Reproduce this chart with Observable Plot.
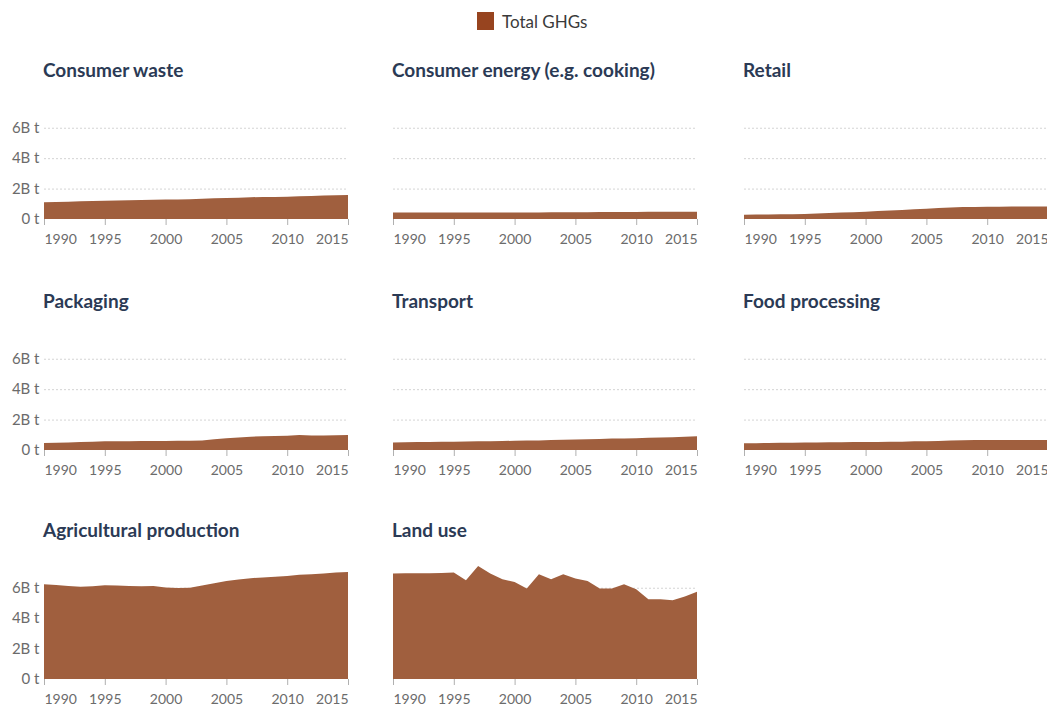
<!DOCTYPE html>
<html><head><meta charset="utf-8">
<script src="https://cdn.jsdelivr.net/npm/d3@7"></script>
<script src="https://cdn.jsdelivr.net/npm/@observablehq/plot@0.6"></script>
<style>
body{margin:0;background:#fff;font-family:Lato,"Noto Sans",sans-serif;}
#root{position:relative;width:1047px;height:709px;overflow:hidden;background:#fff;}
.title{position:absolute;font-size:19px;line-height:18px;font-weight:700;color:#2b3a55;white-space:nowrap;}
.panel{position:absolute;}
.legend-swatch{position:absolute;left:477px;top:12px;width:17px;height:18px;background:#97441f;}
.legend-text{position:absolute;left:502px;top:13px;font-size:17px;line-height:17px;color:#3a3a3a;white-space:nowrap;}
</style></head><body><div id="root"></div>
<script>
// ---- data ----
const years = [1990,1991,1992,1993,1994,1995,1996,1997,1998,1999,2000,2001,2002,2003,2004,2005,2006,2007,2008,2009,2010,2011,2012,2013,2014,2015];
const panelTitles = ["Consumer waste","Consumer energy (e.g. cooking)","Retail","Packaging","Transport","Food processing","Agricultural production","Land use"];
// billions of tonnes CO2eq
const consumerWaste   = [1.10,1.12,1.14,1.16,1.18,1.20,1.22,1.24,1.25,1.27,1.28,1.29,1.30,1.33,1.36,1.38,1.40,1.43,1.45,1.45,1.46,1.49,1.52,1.54,1.56,1.58];
const consumerEnergy  = [0.42,0.42,0.42,0.42,0.42,0.42,0.42,0.42,0.42,0.42,0.43,0.43,0.43,0.44,0.44,0.45,0.45,0.46,0.46,0.46,0.46,0.47,0.47,0.47,0.48,0.48];
const retail          = [0.28,0.29,0.30,0.31,0.32,0.33,0.36,0.39,0.42,0.45,0.48,0.52,0.56,0.60,0.64,0.68,0.72,0.76,0.79,0.79,0.80,0.81,0.82,0.82,0.83,0.83];
const packaging       = [0.46,0.48,0.50,0.52,0.55,0.57,0.58,0.58,0.59,0.60,0.60,0.61,0.61,0.62,0.70,0.77,0.82,0.87,0.91,0.92,0.93,0.99,0.96,0.96,0.97,0.98];
const transport       = [0.50,0.51,0.52,0.53,0.54,0.55,0.56,0.57,0.58,0.59,0.61,0.62,0.63,0.65,0.67,0.69,0.71,0.73,0.75,0.76,0.78,0.80,0.82,0.84,0.87,0.90];
const foodProcessing  = [0.44,0.45,0.46,0.47,0.48,0.50,0.50,0.51,0.51,0.52,0.52,0.53,0.54,0.55,0.57,0.58,0.60,0.62,0.64,0.65,0.65,0.66,0.66,0.66,0.66,0.66];
const agricultural    = [6.23,6.18,6.12,6.06,6.10,6.16,6.14,6.12,6.10,6.12,6.02,5.98,6.00,6.14,6.30,6.45,6.55,6.63,6.68,6.72,6.78,6.85,6.89,6.93,7.00,7.04];
const landUse         = [6.93,6.95,6.95,6.96,6.97,7.00,6.49,7.43,6.93,6.56,6.38,5.95,6.89,6.56,6.89,6.60,6.45,5.95,5.95,6.23,5.90,5.25,5.25,5.18,5.42,5.73];
const seriesValues = [consumerWaste,consumerEnergy,retail,packaging,transport,foodProcessing,agricultural,landUse];
const yTicks = [0,2,4,6];
const xTicks = [1990,1995,2000,2005,2010,2015];
const legendLabel = "Total GHGs";

// ---- layout ----
const root = document.getElementById("root");
const colLeft = [44,393,744];
const rowZero = [219,450,679];
const plotW = 304, plotH = 113, mTop = 8, mBottom = 30;
const yMax = d3.max(seriesValues.flat());
const areaColor = "#a05f3e";
const axisColor = "#6b6b6b";

const sw = document.createElement("div"); sw.className = "legend-swatch"; root.appendChild(sw);
const lt = document.createElement("div"); lt.className = "legend-text"; lt.textContent = legendLabel; root.appendChild(lt);

const yFmt = d => d === 0 ? "0 t" : `${d}B t`;
const xAxisOpts = {tickSize: 6, tickPadding: 9, tickFormat: d => String(d), stroke: "#b0b0b0", fill: axisColor, label: null};

seriesValues.forEach((vals, i) => {
  const r = Math.floor(i / 3), c = i % 3;
  const data = years.map((year, k) => ({year, value: vals[k]}));
  const mLeft = c === 0 ? 44 : 4, mRight = 8;
  const marks = [
    Plot.gridY(yTicks.filter(d => d > 0), {stroke: "#d4d4d4", strokeOpacity: 1, strokeDasharray: "2,2"}),
    Plot.areaY(data, {x: "year", y: "value", fill: areaColor}),
    Plot.axisX(xTicks.slice(1, -1), {...xAxisOpts}),
    Plot.axisX([xTicks[0]], {...xAxisOpts, textAnchor: "start"}),
    Plot.axisX([xTicks[xTicks.length - 1]], {...xAxisOpts, textAnchor: "end"})
  ];
  if (c === 0) marks.push(Plot.axisY(yTicks, {tickSize: 0, tickPadding: 5, tickFormat: yFmt, fill: axisColor, label: null, fontSize: 15}));
  const chart = Plot.plot({
    width: mLeft + plotW + mRight,
    height: mTop + plotH + mBottom,
    marginLeft: mLeft, marginRight: mRight, marginTop: mTop, marginBottom: mBottom,
    x: {domain: [1990, 2015], label: null},
    y: {domain: [0, yMax], label: null, axis: c === 0 ? undefined : null},
    style: {fontFamily: "Lato, 'Noto Sans', sans-serif", fontSize: "14px", background: "transparent", overflow: "visible"},
    marks
  });
  chart.classList.add("panel");
  chart.style.left = (colLeft[c] - mLeft) + "px";
  chart.style.top = (rowZero[r] - plotH - mTop) + "px";
  root.appendChild(chart);

  const t = document.createElement("div");
  t.className = "title";
  t.textContent = panelTitles[i];
  t.style.left = (colLeft[c] - 1) + "px";
  t.style.top = (rowZero[r] - 219 + 61) + "px";
  root.appendChild(t);
});
</script></body></html>
